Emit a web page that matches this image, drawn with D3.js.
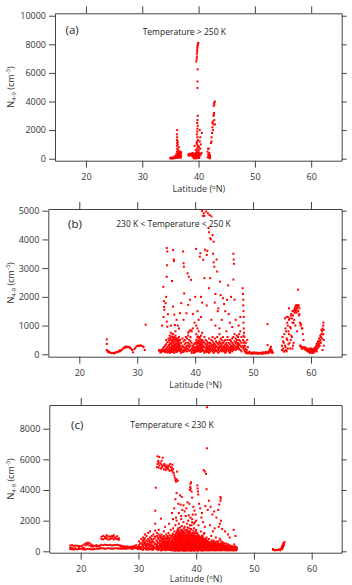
<!DOCTYPE html>
<html>
<head>
<meta charset="utf-8">
<script src="https://cdn.jsdelivr.net/npm/d3@7"></script>
<style>
  body { margin: 0; background: #fff; }
  svg { display: block; font-family: "Open Sans", sans-serif; }
</style>
</head>
<body>
<div id="chart"></div>
<script>
// Tick values
const xTicks = [20, 30, 40, 50, 60];
const yTicksA = [0, 2000, 4000, 6000, 8000, 10000];
const yTicksB = [0, 1000, 2000, 3000, 4000, 5000];
const yTicksC = [0, 2000, 4000, 6000, 8000];

const titles = ["Temperature > 250 K", "230 K < Temperature < 250 K", "Temperature < 230 K"];
const tags = ["(a)", "(b)", "(c)"];

const rowsA = [
  [35.0,[20,60]],[35.2,[30,80]],[35.4,[40,20]],[35.6,[60,100]],[35.8,[80,40,150]],[35.9,[50,200]],
  [36.05,[120,300,80]],[36.15,[150,500,900,1300,1700]],[36.2,[300,700,1100,1500,2000,60]],
  [36.3,[400,1000,1200,250,80]],[36.4,[600,200,100,450]],[36.5,[350,800,150]],[36.6,[450,80,250]],
  [36.7,[300,500,150]],[36.8,[250,400,60]],[36.9,[350,150,450]],
  [38.2,[300,250]],[38.4,[350,200]],[38.6,[280,320]],[38.8,[320,250]],[38.9,[400,150]],[39.0,[250,350]],
  [39.1,[350,100]],[39.2,[200,20,300]],[39.3,[60,900,250]],[39.4,[100,300,40]],[39.5,[50,200,400,600]],
  [39.6,[150,350,30,6800]],[39.65,[300,1100,6950]],[39.7,[500,1000,1700,7100,7300]],
  [39.75,[700,1200,1900,2500,7450,7600]],[39.8,[200,1500,2100,2700,4950,5400,7750,7850]],
  [39.85,[100,800,2300,3000,6250,7950]],[39.9,[400,1300,60,8050]],[39.95,[50,900,250,8100]],
  [40.0,[250,600,100]],[40.05,[150,450]],[40.1,[350,800,50]],[40.2,[1200,2000,200]],[40.3,[1500,700]],
  [40.4,[1000,300]],[40.5,[400]],[40.6,[1800]],
  [41.6,[100,500]],[41.7,[300,700]],[41.8,[700,200]],[41.9,[50,400]],[42.0,[100,250]],[42.05,[150,30]],
  [42.2,[1100]],[42.3,[1200,1500]],[42.4,[1800]],[42.45,[2200,2500]],[42.55,[2600,2000]],
  [42.65,[3000,2400]],[42.7,[3100,3700]],[42.75,[3200,3900]],[42.8,[2700,3800]],[42.9,[4000,2400]]
];

const rowsB = [
  [24.75,[520,360,150]],[24.9,[110]],[25.0,[80]],[25.1,[70,100]],[25.3,[60]],[25.5,[50]],[25.7,[40]],
  [25.9,[50]],[26.0,[30]],[26.1,[55]],[26.3,[60]],[26.5,[80]],[26.7,[90]],[26.9,[100]],[27.0,[140]],
  [27.1,[110]],[27.3,[150]],[27.5,[200]],[27.7,[230]],[27.9,[260]],[28.0,[230]],[28.1,[270]],
  [28.3,[250]],[28.5,[260]],[28.7,[240]],[28.8,[220]],[28.9,[200]],[29.1,[150]],[29.3,[70]],
  [29.5,[180]],[29.7,[230]],[29.9,[280]],[30.1,[300]],[30.3,[290]],[30.5,[310]],[30.7,[300]],
  [30.9,[280]],[31.1,[250]],[31.3,[150]],[31.45,[1030]],
  [33.8,[120,150]],[34.0,[100,140,60]],[34.2,[130,90]],[34.4,[150,110,200]],[34.6,[140,250,120]],
  [34.8,[160,300,80]],[35.0,[200,350,100,500]],[35.2,[150,420,250,60]],[35.4,[300,180,550,100]],
  [35.5,[100,320,480]],[35.6,[250,400,150,650,50]],[35.7,[220,560,90]],[35.8,[200,350,500,100,750]],
  [35.9,[380,160,620]],[36.0,[300,150,450,600,250,80]],[36.1,[260,480,700]],
  [36.2,[200,400,550,120,700,300]],[36.3,[140,420,580]],[36.4,[250,500,150,350,600,50]],
  [36.5,[320,200,520]],[36.6,[300,200,450,100,650,800]],[36.7,[180,380,560]],
  [36.8,[150,350,250,500,80]],[36.9,[260,120,440]],[37.0,[200,400,300,120,550]],[37.1,[320,180,500]],
  [37.2,[250,150,450,350,600]],[37.3,[140,380,260]],[37.4,[100,300,200,500]],[37.6,[200,150,400,50]],
  [37.8,[300,100,250,550]],[38.0,[150,450,250,80]],[38.2,[350,200,500,120]],[38.4,[250,600,150,400]],
  [38.6,[300,100,550,200]],[38.8,[400,180,300,650]],[39.0,[250,500,120,350]],[39.2,[150,300,450,600]],
  [39.4,[200,100,400,50]],[39.6,[300,150,250]],[39.8,[100,200,50,350]],[40.0,[150,80,250,400]],
  [40.2,[200,350,100,500,700]],[40.3,[250,420,120]],[40.4,[300,450,150,600,900]],[40.5,[180,380,620]],
  [40.6,[250,550,400,100,800]],[40.7,[300,480,160]],[40.8,[350,200,600,450,150]],[40.9,[220,520,90]],
  [41.0,[250,400,100,300,650]],[41.1,[340,160,480]],[41.2,[200,500,350,150,750]],[41.3,[260,420,120]],
  [41.4,[300,150,450,250]],[41.6,[100,250,400,50,600]],[41.8,[200,350,120,500]],
  [42.0,[150,300,250,80,450]],[42.1,[180,350]],[42.2,[250,100,400,200]],[42.4,[300,150,550,50]],
  [42.5,[220,400]],[42.6,[200,400,100,300]],[42.8,[150,350,250,500]],[43.0,[100,300,200,450,600]],
  [43.1,[160,320]],[43.2,[250,150,400,50]],[43.4,[200,350,100,550]],[43.5,[280,120]],
  [43.6,[300,150,450,250]],[43.8,[100,250,400,600]],[44.0,[200,350,150,50]],[44.1,[220,380]],
  [44.2,[300,100,450,250,700]],[44.4,[150,400,250,550]],[44.5,[160,300]],[44.6,[200,100,350,500]],
  [44.8,[250,400,150,600]],[45.0,[100,300,200,450]],[45.1,[260,140]],[45.2,[200,350,50,500]],
  [45.4,[150,250,400,100]],[45.5,[180,320]],[45.6,[300,200,500,600]],[45.8,[100,250,400,150]],
  [46.0,[200,350,50,500]],[46.1,[240,120]],[46.2,[150,300,250,450]],[46.4,[100,200,400,550]],
  [46.5,[300,180]],[46.6,[250,150,350,600]],[46.8,[300,200,450,700]],[47.0,[150,400,250,550]],
  [47.1,[260,420]],[47.2,[350,200,500,650]],[47.4,[250,400,300,600]],[47.5,[180,320]],
  [47.6,[200,500,350,700]],[47.8,[150,300,450,800]],[48.0,[100,250,400,600]],
  [48.2,[2300,300]],[48.25,[2100,500]],[48.3,[1900,1700,200]],[48.35,[1500,1100,650]],
  [48.4,[1300,900,400]],[48.45,[750,250]],[48.5,[600,450,150]],[48.6,[300,100]],[48.7,[200,60]],
  [48.8,[400,80]],[48.9,[150,40]],[49.0,[500,60]],[49.1,[250,30]],[49.2,[60]],[49.4,[40,90]],
  [49.6,[30]],[49.8,[20,60]],[50.0,[30]],[50.2,[40,70]],[50.4,[25]],[50.6,[35,60]],[50.8,[20]],
  [51.0,[30,50]],[51.2,[40]],[51.4,[25,60]],[51.6,[20]],[51.8,[35,70]],[52.0,[50]],[52.2,[30,80]],
  [52.4,[60]],[52.5,[320,1050]],[52.6,[80,40]],[52.8,[120,60]],[52.9,[180]],[53.0,[200,90]],
  [53.1,[260,130]],[53.2,[150]],[53.3,[100,50]],[53.4,[60]],
  [55.0,[300,150]],[55.1,[600]],[55.2,[200,450]],[55.3,[400,100]],[55.4,[100,700]],[55.5,[1250,300]],
  [55.6,[250,900]],[55.7,[800,150]],[55.8,[1300,100,550]],[55.9,[500,1100]],[56.0,[1000,1300,200]],
  [56.1,[350,800]],[56.2,[700,1600,1200]],[56.3,[1250,400]],[56.4,[200,950]],[56.5,[900,500,1350]],
  [56.6,[1400,650]],[56.7,[600,1250]],[56.8,[1100,200,1500]],[56.9,[300,1350]],[57.0,[1500,400,1100]],
  [57.1,[1200,1550]],[57.2,[1600,1450]],[57.3,[1650,1000,1500]],[57.4,[1550,1700]],[57.5,[1700,1450]],
  [57.6,[1600,800,1700]],[57.7,[1650,1500]],[57.75,[2250]],[57.8,[1500,1700]],[57.9,[1700,1350]],
  [58.0,[1400,1600]],[58.1,[1100,300]],[58.2,[300,1000]],[58.3,[1050,250]],[58.4,[900,200]],
  [58.5,[900,200]],[58.6,[700,250]],[58.7,[500,220]],[58.9,[250,180]],[59.1,[220,150]],
  [59.3,[200,120]],[59.5,[150,90]],[59.7,[120,200]],[59.8,[50]],[59.9,[100,160]],[60.0,[80,200]],
  [60.1,[150,60]],[60.2,[60,120]],[60.3,[100,180]],[60.4,[130,50]],[60.5,[180,90]],[60.6,[90,220]],
  [60.7,[200,120]],[60.8,[250,150]],[60.9,[300,180]],[61.0,[200,100,380]],[61.1,[350,200]],
  [61.2,[300,450]],[61.3,[400,250]],[61.4,[350,550]],[61.5,[450,300]],[61.6,[500,650]],
  [61.7,[600,400]],[61.8,[700,850]],[61.9,[800,550]],[62.0,[900,150,700]],[62.1,[1000,700]],
  [62.15,[1100]],[62.2,[500,300,850]]
];

// scattered high values in panel (b), [latitude, N4-9]
const pointsB = [
  [34.5,2350],[34.6,1850],[34.65,1650],[34.7,1550],[34.55,1300],[34.3,1000],[35.1,3700],[35.2,3580],
  [35.15,3100],[35.1,2700],[35.0,2000],[34.9,1780],[35.3,1400],[35.1,1140],[35.2,960],[36.2,3630],
  [36.3,3300],[36.35,3250],[36.2,1660],[36.4,1380],[36.5,1020],[36.0,2550],[37.4,1430],[37.6,1780],
  [37.9,3580],[38.0,3170],[38.05,3050],[38.1,2120],[38.5,1430],[38.8,1720],[38.7,2820],[38.9,2700],
  [39.3,2590],[39.1,1900],[39.6,1400],[39.9,1100],[40.15,3670],[40.0,2000],[40.4,1500],[40.6,1200],
  [40.8,3400],[40.9,3520],[41.0,2000],[41.2,1800],[41.4,3290],[41.6,2650],[41.7,3640],[41.2,4990],
  [41.5,4910],[41.9,4970],[42.2,4910],[42.5,4850],[42.8,4800],[41.35,4820],[41.6,4820],[42.3,4400],
  [42.4,4250],[42.6,4040],[42.7,4000],[43.2,3920],[43.1,3500],[43.0,4150],[42.1,3600],[42.0,3460],
  [43.2,3200],[43.3,3050],[43.7,3300],[43.8,2880],[42.6,2650],[42.4,2300],[43.5,2100],[44.3,2530],
  [44.4,2060],[44.8,1950],[45.0,1750],[45.2,1500],[45.5,1900],[44.6,1200],[44.0,1600],[43.5,1000],
  [46.6,3500],[46.65,3300],[46.7,3150],[46.6,2600],[46.8,1900],[46.2,2000],[45.8,1400],[46.0,1100],
  [47.5,1000],[47.0,1200],[39.4,800],[39.2,850],[39.0,800],[38.8,750],[39.6,900],[37.0,1000],
  [36.8,1200],[37.2,900],[35.8,1000],[41.0,1300],[42.8,1200],[44.2,900],[45.4,800],[46.4,950],
  [38.0,1200],[40.2,1000],[43.9,1500],[47.8,1300],[42.0,1700],[43.4,1800],[45.7,2400]
];

const rowsC = [
  [18.2,[150,250,380]],[18.5,[130,200,400]],[18.8,[120,350,180]],[19.1,[140,380,200]],[19.4,[130,360]],
  [19.7,[150,340,220]],[20.0,[160,330]],[20.3,[140,380,250]],[20.6,[120,450,200]],[20.9,[130,520,400]],
  [21.2,[150,560,450]],[21.5,[160,540,380]],[21.8,[140,450,330]],[22.1,[130,380,300]],[22.4,[150,350]],
  [22.7,[170,330,400]],[23.0,[160,340]],[23.3,[180,380,250]],[23.6,[200,420,800,950]],
  [23.9,[190,400,780,1000]],[24.2,[170,430,850,950]],[24.5,[180,410,820,900,1050]],
  [24.8,[200,400,760,980]],[25.1,[190,420,800,950]],[25.4,[170,380,850,1000]],
  [25.7,[180,400,780,950,1050]],[26.0,[200,410,820,900]],[26.3,[190,420,800,980]],
  [26.6,[180,400,750,850]],[26.9,[170,380,300]],[27.2,[160,350,250]],[27.5,[180,330,280]],
  [27.8,[170,300,200]],[28.1,[190,320,250]],[28.4,[200,280]],[28.7,[180,300,250]],[29.0,[200,320,150]],
  [29.3,[220,280,350]],[29.6,[250,200,400]],[29.9,[230,300,150]],
  [30.1,[200,400,650,300]],[30.3,[150,280,520]],[30.5,[250,500,800,150]],[30.7,[120,380,620]],
  [30.8,[300,700,450,900,100]],[31.0,[200,540,760]],[31.1,[200,600,400,1100,850]],[31.3,[120,300,480]],
  [31.4,[350,150,700,1000,500]],[31.6,[220,420,640]],[31.7,[250,500,800,1200,100]],[31.9,[160,380,700]],
  [32.0,[300,600,450,900,1300,150]],[32.2,[120,360,820]],[32.3,[200,700,400,1000,550]],
  [32.5,[100,280,640]],[32.6,[350,150,800,600,1100]],[32.8,[220,480,960]],[32.9,[250,500,900,1350,1800]],
  [33.1,[140,380,720]],[33.2,[300,650,450,1000,1200,150]],[33.4,[80,260,560,880]],
  [33.5,[200,550,800,350,1100,1400]],[33.7,[120,420,680,960]],[33.8,[400,250,700,1000,500]],
  [33.9,[60,300,860]],
  [34.0,[150,400,650,900,250,1100]],[34.1,[80,320,560,780]],[34.2,[300,550,100,800,450]],
  [34.3,[220,480,700,950]],[34.4,[200,700,400,1000,600,1300]],[34.5,[120,360,540,820]],
  [34.6,[350,150,500,850,250]],[34.7,[60,280,620,900]],[34.8,[250,600,450,1100,750]],
  [34.9,[180,380,820,520]],[35.0,[150,400,800,300,1000,550]],[35.1,[90,260,640,900]],
  [35.2,[300,650,200,900,500,1200]],[35.3,[140,420,760,580]],[35.4,[400,100,700,250,1050]],
  [35.5,[200,500,860,330]],[35.6,[250,550,850,350,1400,100]],[35.7,[60,420,680,980]],
  [35.8,[150,450,700,1000,300,600]],[35.9,[230,520,820,1150]],[36.0,[350,200,800,550,1100,1500,60]],
  [36.1,[120,460,640,940,280]],[36.2,[250,650,450,950,100,1300,780]],[36.3,[180,380,560,860,1050,40]],
  [36.4,[150,400,750,300,600,1050,1700,880]],[36.5,[60,240,520,680,960,1180,420]],
  [36.6,[300,550,200,900,700,1200,450,2000,80]],[36.7,[140,380,620,820,1020,1300,260]],
  [36.8,[100,450,800,350,1100,600,1400,250,950]],[36.9,[40,220,500,700,880,1160,1500,360]],
  [37.0,[250,600,150,950,400,750,1300,1800,60,1080]],[37.1,[120,340,540,820,1000,1240,700]],
  [37.2,[350,100,700,500,1000,250,850,1550,1150]],[37.3,[60,200,440,640,900,1100,1380]],
  [37.4,[200,450,800,600,1200,350,1000,2100,80]],[37.5,[140,300,540,720,940,1300,1650]],
  [37.6,[100,550,300,900,700,1400,150,1100,420]],[37.7,[40,240,460,660,860,1040,1240]],
  [37.8,[250,650,450,1050,800,350,1300,1900,120]],[37.9,[80,180,520,720,960,1160,1500]],
  [38.0,[150,400,700,550,900,250,1200,1600,60]],[38.1,[40,320,480,820,1060,1380,240]],
  [38.2,[300,600,100,850,450,1100,700,2300,1000]],[38.3,[180,380,560,760,960,1250,60]],
  [38.4,[200,500,750,350,1000,600,1400,1800,80]],[38.5,[120,280,440,660,880,1120,1560]],
  [38.6,[100,400,650,250,900,550,1250,2000,780]],[38.7,[40,220,480,700,1020,1320,340]],
  [38.8,[300,550,150,800,450,1100,700,1500,950]],[38.9,[80,260,400,620,860,1200,1700]],
  [39.0,[200,650,400,950,550,100,1300,2200,800]],[39.1,[140,320,480,720,1080,1450,40]],
  [39.2,[350,150,700,500,1050,250,850,1700,600]],[39.3,[60,280,440,640,920,1150,1900]],
  [39.4,[250,600,400,900,100,750,1200,2400,1000]],[39.5,[180,360,520,820,1060,1350]],
  [39.6,[150,450,700,300,1000,550,1500,850,60]],[39.7,[40,240,400,620,900,1200]],
  [39.8,[300,100,650,450,850,200,1150,1900,750]],[39.9,[120,360,520,760,980,1300]],
  [40.0,[200,500,350,800,600,1000,1400,80]],[40.1,[60,280,440,700,920,1180]],
  [40.2,[100,400,700,250,550,900,1200,820]],[40.3,[180,340,600,760,1050,40]],
  [40.4,[300,150,600,450,800,1050,1700,900]],[40.5,[80,240,520,680,960]],
  [40.6,[200,500,350,700,100,950,820]],[40.7,[140,420,600,880,280]],[40.8,[250,450,600,150,850,1300,60]],
  [40.9,[100,320,520,740,960]],[41.0,[100,350,550,200,750,1000,880]],[41.1,[40,260,440,640,820]],
  [41.2,[300,150,450,650,250,900]],[41.3,[80,380,560,740,1100]],[41.4,[200,400,100,600,350,800,1200]],
  [41.5,[140,280,480,680]],[41.6,[150,300,500,250,700,60]],[41.7,[80,220,420,620,820]],
  [41.8,[100,350,200,550,450,900]],[41.9,[160,300,480,700]],[42.0,[250,150,400,300,650,60]],
  [42.1,[80,220,540,380]],[42.2,[200,100,350,500,250,800]],[42.3,[140,300,440,620]],
  [42.4,[150,300,450,200,600,60]],[42.5,[80,260,380,520]],[42.6,[100,250,400,150,550,1000]],
  [42.7,[180,320,460,700]],[42.8,[200,350,100,500,300]],[42.9,[60,240,420,600]],
  [43.0,[150,300,250,450,700]],[43.1,[80,200,380,540]],[43.2,[100,250,400,200,600]],
  [43.3,[160,320,480,60]],[43.4,[200,350,150,500,300,900]],[43.5,[80,260,420,640]],
  [43.6,[150,300,250,450,100]],[43.7,[60,200,360,560]],[43.8,[250,100,400,200,650]],
  [43.9,[140,320,480]],[44.0,[200,350,150,500,300]],[44.1,[60,260,420,820]],
  [44.2,[100,250,400,200,700]],[44.3,[160,320,520]],[44.4,[150,300,250,450,100]],
  [44.5,[60,220,380,620]],[44.6,[200,100,350,250,550]],[44.7,[140,300,440]],[44.8,[150,300,200,400]],
  [44.9,[80,240,520]],[45.0,[100,250,150,350]],[45.1,[60,200,300]],[45.2,[200,100,300,250,500]],
  [45.3,[140,380]],[45.4,[150,250,100,350]],[45.5,[60,200,450]],[45.6,[200,100,300,150]],
  [45.7,[80,260]],[45.8,[150,250,100,400]],[45.9,[60,220]],[46.0,[200,100,300,150]],[46.1,[80,260]],
  [46.2,[100,250,200,350]],[46.3,[140,60]],[46.4,[150,100,300,200]],[46.5,[60,240]],
  [46.6,[200,150,250,100,450]],[46.7,[80,300]],[46.8,[100,200,300,150]],[46.9,[60,240]],
  [47.0,[150,250,100,200]],
  [53.3,[100,150]],[53.5,[80]],[53.7,[60]],[53.9,[100]],[54.1,[80]],[54.3,[120]],[54.5,[100]],
  [54.6,[60]],[54.7,[150]],[54.8,[250]],[54.9,[350,150]],[55.0,[450,250]],[55.1,[500,350]],
  [55.2,[550,400]],[55.3,[600]]
];

// scattered high values in panel (c), [latitude, N4-9]
const pointsC = [
  [33.3,6200],[33.6,6150],[34.2,6100],[33.4,5900],[33.5,5800],[33.3,5700],[33.6,5600],[33.8,5750],
  [34.0,5650],[34.1,5500],[34.3,5600],[34.5,5700],[34.6,5550],[34.8,5450],[34.9,5600],[35.0,5400],
  [35.1,5500],[35.2,5350],[35.3,5600],[35.5,5700],[35.6,5500],[35.7,5300],[35.8,5450],[35.9,5200],
  [36.0,5350],[36.1,5100],[36.2,4950],[36.3,4800],[36.4,4650],[36.5,4550],[36.6,4700],[35.4,5250],
  [34.7,5300],[33.9,5400],[33.5,5450],[34.4,5350],[36.7,5200],[36.8,4600],[35.9,5650],[33.2,5500],
  [34.0,5900],
  [33.0,4150],[32.9,2650],[33.9,2130],[36.6,3800],[37.2,3650],[37.5,3550],[36.4,3400],[36.9,3100],
  [37.3,3050],[36.2,2800],[37.8,3000],[37.0,2500],[36.5,2200],[37.6,2700],[38.0,2600],[38.3,2800],
  [38.5,3200],[38.9,4000],[38.95,4200],[39.0,4400],[39.1,4500],[39.05,4100],[39.2,3900],[39.3,3500],
  [38.8,3100],[39.5,2900],[39.7,2650],[39.9,2400],[40.2,4300],[40.25,4100],[40.3,3900],[40.35,3700],
  [40.5,3100],[40.7,2800],[41.0,2500],[41.3,5300],[41.5,5200],[41.7,5050],[41.8,4050],[41.85,6720],
  [41.9,9400],[41.6,2950],[42.0,2700],[42.2,3300],[42.5,2900],[42.8,2400],[43.1,2600],[43.5,2200],
  [43.8,2700],[44.2,3550],[44.25,3450],[44.2,3300],[44.0,3050],[44.3,2000],[44.1,1800],[43.9,1600],
  [44.5,1450],[45.0,1300],[45.5,1100],[46.5,1400],[46.8,1000],[45.8,900],[40.9,2200],[40.0,2000],
  [41.2,1900],[42.4,1700],[43.2,1500],[42.9,1300],[41.5,1600],[38.7,2350],[39.3,2100],[37.4,2300],
  [36.0,2100],[35.3,1800],[34.6,1600],[35.8,2500],[39.6,1800]
];

const width = 352;
const height = 585;
const axisColor = "#444";
const textColor = "#333";

const svg = d3.select("#chart").append("svg")
  .attr("width", width)
  .attr("height", height)
  .style("background", "white");

const panels = [
  { rows: rowsA, points: [], yTicks: yTicksA,
    frame: { left: 55, right: 341.7, top: 13.3, bottom: 160.7 },
    xDomain: [14.5, 65.42], yDomain: [-140, 10170],
    tagAt: [65.5, 33.5], titleAt: [184.3, 35], xLabelGap: 31.5 },
  { rows: rowsB, points: pointsB, yTicks: yTicksB,
    frame: { left: 48.3, right: 341.7, top: 209, bottom: 356.7 },
    xDomain: [14.65, 65.3], yDomain: [-84, 5059],
    tagAt: [68, 228], titleAt: [173.5, 226.7], xLabelGap: 31.5 },
  { rows: rowsC, points: pointsC, yTicks: yTicksC,
    frame: { left: 49.3, right: 341.7, top: 405, bottom: 552.7 },
    xDomain: [14.56, 65.2], yDomain: [-91, 9546],
    tagAt: [71, 428.5], titleAt: [172, 427.5], xLabelGap: 29.3 }
];

function styleAxis(sel) {
  sel.attr("font-family", null).attr("font-size", 9);
  sel.selectAll("path, line").attr("stroke", axisColor).attr("stroke-width", 1);
  sel.selectAll("text").attr("fill", textColor);
}

panels.forEach((p, i) => {
  const f = p.frame;
  const x = d3.scaleLinear().domain(p.xDomain).range([f.left, f.right]);
  const y = d3.scaleLinear().domain(p.yDomain).range([f.bottom, f.top]);
  const g = svg.append("g");

  // points
  const data = p.rows.flatMap(([lat, vals]) => vals.map(v => [lat, v])).concat(p.points);
  g.append("g").selectAll("rect").data(data).join("rect")
    .attr("x", d => x(d[0]) - 1)
    .attr("y", d => y(d[1]) - 1)
    .attr("width", 2)
    .attr("height", 2)
    .attr("fill", "#f00");

  // four-sided frame with outward ticks
  g.append("g").attr("transform", `translate(0,${f.bottom})`)
    .call(d3.axisBottom(x).tickValues(xTicks).tickSize(7).tickPadding(6).tickSizeOuter(0))
    .call(styleAxis);
  g.append("g").attr("transform", `translate(0,${f.top})`)
    .call(d3.axisTop(x).tickValues(xTicks).tickSize(7).tickFormat("").tickSizeOuter(0))
    .call(styleAxis);
  g.append("g").attr("transform", `translate(${f.left},0)`)
    .call(d3.axisLeft(y).tickValues(p.yTicks).tickSize(6).tickPadding(3)
      .tickFormat(d3.format("d")).tickSizeOuter(0))
    .call(styleAxis);
  g.append("g").attr("transform", `translate(${f.right},0)`)
    .call(d3.axisRight(y).tickValues(p.yTicks).tickSize(5).tickFormat("").tickSizeOuter(0))
    .call(styleAxis);

  // x label
  const xl = g.append("text")
    .attr("x", (f.left + f.right) / 2 + 0.5)
    .attr("y", f.bottom + p.xLabelGap)
    .attr("text-anchor", "middle")
    .attr("font-size", 9)
    .attr("fill", textColor);
  xl.append("tspan").text("Latitude (");
  xl.append("tspan").attr("font-size", 6).attr("dy", -3).text("o");
  xl.append("tspan").attr("dy", 3).text("N)");

  // y label
  const cy = (f.top + f.bottom) / 2;
  const yl = g.append("text")
    .attr("transform", `translate(13.5,${cy}) rotate(-90)`)
    .attr("text-anchor", "middle")
    .attr("font-size", 9)
    .attr("fill", textColor);
  yl.append("tspan").text("N");
  yl.append("tspan").attr("font-size", 6).attr("dy", 2).text("4-9");
  yl.append("tspan").attr("dy", -2).text(" (cm");
  yl.append("tspan").attr("font-size", 6).attr("dy", -4).text("-3");
  yl.append("tspan").attr("dy", 4).text(")");

  // panel tag and temperature range
  g.append("text")
    .attr("x", p.tagAt[0]).attr("y", p.tagAt[1])
    .attr("font-size", 11.5)
    .attr("fill", "#222")
    .text(tags[i]);
  g.append("text")
    .attr("x", p.titleAt[0]).attr("y", p.titleAt[1])
    .attr("text-anchor", "middle")
    .attr("font-size", 8.5)
    .attr("fill", "#222")
    .text(titles[i]);
});
</script>
</body>
</html>
